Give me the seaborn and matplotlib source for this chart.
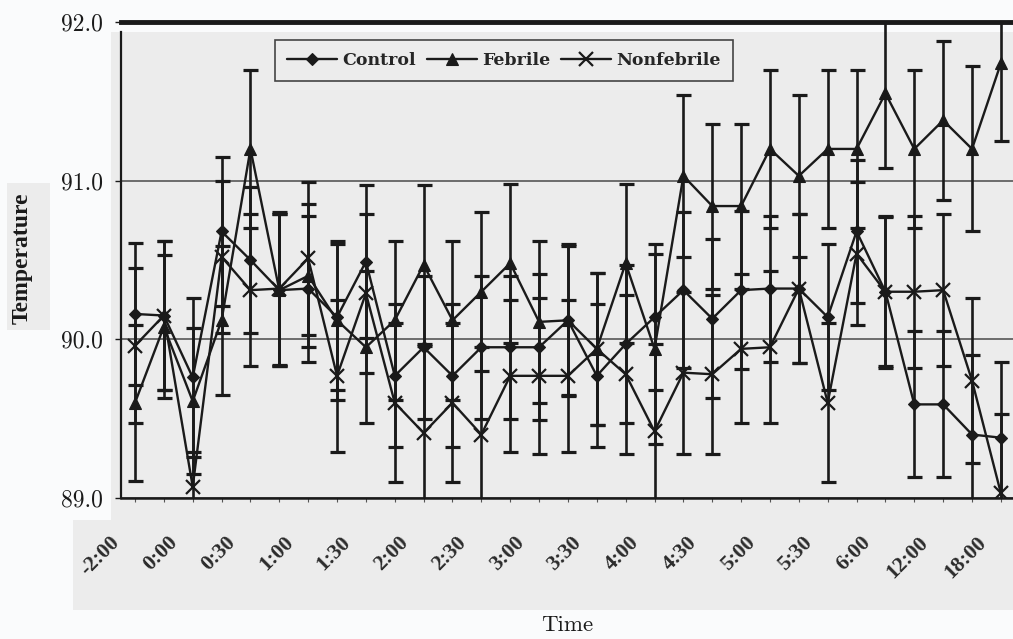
import numpy as np
import pandas as pd
import matplotlib
matplotlib.use("Agg")
import matplotlib.pyplot as plt
import matplotlib.transforms as mtransforms
from matplotlib.patches import Polygon, Rectangle
import seaborn as sns

# ---- data -------------------------------------------------------------
times = ["-2:00", "-1:00", "0:00", "0:15", "0:30", "0:45", "1:00", "1:15",
         "1:30", "1:45", "2:00", "2:15", "2:30", "2:45", "3:00", "3:15",
         "3:30", "3:45", "4:00", "4:15", "4:30", "4:45", "5:00", "5:15",
         "5:30", "5:45", "6:00", "9:00", "12:00", "15:00", "18:00"]

control = [90.16, 90.15, 89.76, 90.68, 90.50, 90.31, 90.32, 90.14,
           90.49, 89.77, 89.95, 89.77, 89.95, 89.95, 89.95, 90.12,
           89.77, 89.97, 90.14, 90.31, 90.13, 90.31, 90.32, 90.32,
           90.14, 90.68, 90.30, 89.59, 89.59, 89.40, 89.38]
control_err = [0.45, 0.47, 0.50, 0.47, 0.46, 0.48, 0.46, 0.46,
               0.48, 0.45, 0.45, 0.45, 0.45, 0.45, 0.46, 0.47,
               0.45, 0.50, 0.46, 0.49, 0.50, 0.50, 0.46, 0.47,
               0.46, 0.45, 0.47, 0.46, 0.46, 0.50, 0.48]

febrile = [89.60, 90.08, 89.61, 90.12, 91.20, 90.31, 90.40, 90.12,
           89.95, 90.12, 90.47, 90.12, 90.30, 90.48, 90.11, 90.12,
           89.94, 90.48, 89.94, 91.03, 90.84, 90.84, 91.20, 91.03,
           91.20, 91.20, 91.55, 91.20, 91.38, 91.20, 91.74]
febrile_err = [0.49, 0.45, 0.46, 0.47, 0.50, 0.48, 0.45, 0.50,
               0.48, 0.50, 0.50, 0.50, 0.50, 0.50, 0.51, 0.48,
               0.48, 0.50, 0.60, 0.51, 0.52, 0.52, 0.50, 0.51,
               0.50, 0.50, 0.47, 0.50, 0.50, 0.52, 0.49]

nonfebrile = [89.96, 90.15, 89.07, 90.52, 90.31, 90.32, 90.51, 89.77,
              90.29, 89.60, 89.41, 89.60, 89.40, 89.77, 89.77, 89.77,
              89.94, 89.78, 89.42, 89.79, 89.78, 89.94, 89.95, 90.32,
              89.60, 90.54, 90.30, 90.30, 90.31, 89.74, 89.03]
nonfebrile_err = [0.49, 0.47, 0.22, 0.48, 0.48, 0.48, 0.48, 0.48,
                  0.50, 0.50, 0.55, 0.50, 0.55, 0.48, 0.49, 0.48,
                  0.48, 0.50, 0.55, 0.51, 0.50, 0.47, 0.48, 0.47,
                  0.50, 0.45, 0.48, 0.48, 0.48, 0.52, 0.50]

groups = ["Control", "Febrile", "Nonfebrile"]
temp_ticks = [89.0, 90.0, 91.0, 92.0]
temp_labels = ["89.0", "90.0", "91.0", "92.0"]

# ---- long-form table ----------------------------------------------------
pos = np.arange(len(times))
frames = []
for name, vals, errs in zip(groups,
                            [control, febrile, nonfebrile],
                            [control_err, febrile_err, nonfebrile_err]):
    frames.append(pd.DataFrame({"pos": pos, "time": times, "temp": vals,
                                "err": errs, "group": name}))
df = pd.concat(frames, ignore_index=True)

# ---- style ---------------------------------------------------------------
sns.set_theme(style="white")
plt.rcParams["font.family"] = ["DejaVu Serif", "DejaVu Sans"]

INK = "#1a1a1a"
PAPER = "#fafbfc"
SCAN = "#ececec"
W, H = 1013, 639

fig = plt.figure(figsize=(W / 100, H / 100), dpi=100, facecolor=PAPER)
ax = fig.add_axes([121 / W, 1 - 498 / H, (W - 121) / W, (498 - 22) / H])
ax.set_facecolor("none")


def fx(px):
    return px / W


def fy(py):
    return 1 - py / H


# grey printed-page area behind the plot and the axis titles
page = Polygon([(fx(111), fy(32)), (fx(W), fy(32)), (fx(W), fy(610)),
                (fx(73), fy(610)), (fx(73), fy(520)), (fx(111), fy(520))],
               closed=True, transform=fig.transFigure, facecolor=SCAN,
               edgecolor="none", zorder=-10)
fig.patches.append(page)
fig.patches.append(Rectangle((fx(7), fy(330)), fx(50) - fx(7), fy(183) - fy(330),
                             transform=fig.transFigure, facecolor=SCAN,
                             edgecolor="none", zorder=-10))

marker_styles = {
    "Control": dict(marker="D", markersize=6.5, markeredgewidth=0.8),
    "Febrile": dict(marker="^", markersize=9, markeredgewidth=0.8),
    "Nonfebrile": dict(marker="x", markersize=10.5, markeredgewidth=1.6),
}

for name in groups:
    sub = df[df["group"] == name]
    sns.lineplot(data=sub, x="pos", y="temp", ax=ax, color=INK,
                 linewidth=1.7, label=name, errorbar=None, zorder=3,
                 markeredgecolor=INK, markerfacecolor=INK,
                 **marker_styles[name])
    ax.errorbar(sub["pos"], sub["temp"], yerr=sub["err"], fmt="none",
                ecolor=INK, elinewidth=1.9, capsize=5.4, capthick=2.3,
                zorder=2)

# ---- axes ------------------------------------------------------------------
ax.set_xlim(-0.485, 30.42)
ax.set_ylim(89.0, 92.0)

ax.set_yticks(temp_ticks)
ax.set_yticklabels(temp_labels, fontfamily="cmr10", fontsize=17, color=INK)
ax.tick_params(axis="y", left=True, length=4.5, width=1.0, pad=8.5,
               color=INK)
ax.grid(axis="y", color="#4a4a4a", linewidth=1.1)
ax.grid(axis="x", visible=False)

ax.set_xticks(pos, minor=True)
ax.set_xticks(pos[::2])
ax.set_xticklabels(times[::2])
ax.tick_params(axis="x", which="both", bottom=True, length=3, width=0.8,
               color="#555555")
ax.tick_params(axis="x", which="major", pad=22)
shift = mtransforms.ScaledTranslation(-25 / 100, 0, fig.dpi_scale_trans)
for lab in ax.get_xticklabels():
    lab.set(rotation=45, ha="right", va="top", rotation_mode="anchor",
            fontfamily="Liberation Serif", fontweight="bold", fontsize=15.5,
            color="#2b2b2b")
    lab.set_transform(lab.get_transform() + shift)

ax.spines["right"].set_visible(False)
ax.spines["top"].set(linewidth=3.5, color=INK)
ax.spines["left"].set(linewidth=1.6, color=INK)
ax.spines["left"].set_bounds(89.0, 91.937)
ax.spines["bottom"].set(linewidth=1.8, color=INK)

ax.set_xlabel("Time", fontfamily="cmr10", fontsize=16.5, color=INK)
ax.xaxis.set_label_coords(0.5, -0.246)
ax.xaxis.label.set_verticalalignment("top")

ax.set_ylabel("Temperature", fontfamily="Liberation Serif",
              fontweight="bold", fontsize=17, color=INK)
ax.yaxis.label.set(va="center", ha="center", rotation_mode="default")
ax.yaxis.set_label_coords(-0.111, 0.504)

# ---- legend ----------------------------------------------------------------
handles, labels = ax.get_legend_handles_labels()
keep = [(h, l) for h, l in zip(handles, labels) if l in groups]
leg = ax.legend([h for h, _ in keep], [l for _, l in keep], ncol=3,
                loc="upper left", bbox_to_anchor=(0.1726, 0.962),
                borderaxespad=0, frameon=True, fancybox=False,
                edgecolor=INK, borderpad=0.7, handlelength=2.9,
                handletextpad=0.3, columnspacing=0.6,
                prop=dict(family="DejaVu Serif", weight="bold", size=12.5))
leg.get_frame().set_facecolor("none")
leg.get_frame().set_linewidth(1.2)
leg.set_zorder(5)

fig.savefig("out.png", dpi=100, facecolor=PAPER)
